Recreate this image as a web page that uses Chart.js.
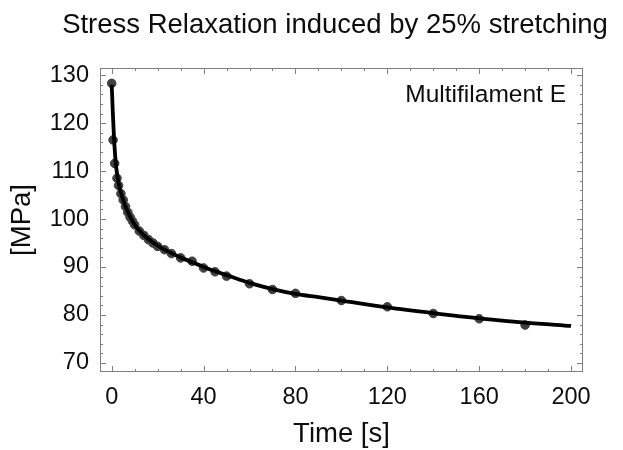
<!DOCTYPE html>
<html>
<head>
<meta charset="utf-8">
<script src="https://cdn.jsdelivr.net/npm/chart.js@4"></script>
<style>
  body { margin: 0; background: #fff; }
  #wrap { width: 623px; height: 450px; }
</style>
</head>
<body>
<div id="wrap"><canvas id="relax" width="623" height="450"></canvas></div>
<script>
// fitted curve
const timeLine   = [0, 0.5, 1, 1.5, 2, 3, 4, 5, 6, 8, 10, 12, 15, 18, 22, 26, 30, 35, 40, 45, 50, 60, 70, 80, 90, 100, 120, 140, 160, 180, 200];
const stressLine = [128, 122, 117, 113.2, 110.6, 107.5, 105.5, 104, 102.6, 100.5, 98.8, 97.6, 96.2, 95.1, 93.9, 92.9, 92.0, 91.0, 90.0, 89.1, 88.3, 86.7, 85.4, 84.4, 83.7, 83.0, 81.6, 80.4, 79.3, 78.4, 77.7];

// measured points
const timeDots   = [0, 0.6, 1.3, 2.3, 3, 4, 5, 6, 7, 8, 9, 10, 12, 14, 16, 18, 20, 23, 26, 30, 35, 40, 45, 50, 60, 70, 80, 100, 120, 140, 160, 180];
const stressDots = [128.3, 116.5, 111.6, 108.5, 107, 105.3, 104, 102.6, 101.4, 100.4, 99.6, 98.8, 97.5, 96.6, 95.7, 95.0, 94.3, 93.6, 92.8, 91.9, 91.2, 89.8, 89.0, 88.1, 86.5, 85.3, 84.5, 83.0, 81.7, 80.3, 79.2, 77.9];

const xTicks = [0, 40, 80, 120, 160, 200];
const yTicks = [70, 80, 90, 100, 110, 120, 130];

const chartTitle = "Stress Relaxation induced by 25% stretching";
const sampleName = "Multifilament E";

const FONT = "Liberation Sans, Arial, Helvetica, sans-serif";

// frame, inward ticks on all sides, title and sample label
const framePlugin = {
  id: "frame",
  afterDraw(chart) {
    const c = chart.ctx, a = chart.chartArea;
    const xs = chart.scales.x, ys = chart.scales.y;
    c.save();
    c.strokeStyle = "#808080";
    c.lineWidth = 1;
    c.strokeRect(a.left + 0.5, a.top + 0.5, a.right - a.left - 1, a.bottom - a.top - 1);
    c.beginPath();
    for (let v = 0; v <= 200; v += 10) {
      const px = Math.round(xs.getPixelForValue(v)) + 0.5;
      const len = v % 40 === 0 ? 6 : 3;
      c.moveTo(px, a.bottom); c.lineTo(px, a.bottom - len);
      c.moveTo(px, a.top); c.lineTo(px, a.top + len);
    }
    for (let v = 70; v <= 130; v += 2) {
      const py = Math.round(ys.getPixelForValue(v)) + 0.5;
      const len = v % 10 === 0 ? 6 : 3;
      c.moveTo(a.left, py); c.lineTo(a.left + len, py);
      c.moveTo(a.right, py); c.lineTo(a.right - len, py);
    }
    c.stroke();

    c.fillStyle = "#0d0d0d";
    c.textBaseline = "alphabetic";
    c.font = "27.5px " + FONT;
    c.textAlign = "center";
    c.fillText(chartTitle, 335, 33);
    c.font = "24.5px " + FONT;
    c.textAlign = "right";
    c.fillText(sampleName, 566, 102);
    c.restore();
  }
};

new Chart(document.getElementById("relax"), {
  type: "scatter",
  data: {
    datasets: [
      {
        label: "fit",
        data: timeLine.map((t, i) => ({ x: t, y: stressLine[i] })),
        showLine: true,
        borderColor: "#000",
        borderWidth: 3.8,
        pointRadius: 0,
        cubicInterpolationMode: "monotone",
        order: 0
      },
      {
        label: "data",
        data: timeDots.map((t, i) => ({ x: t, y: stressDots[i] })),
        backgroundColor: "#404040",
        borderColor: "#404040",
        pointRadius: 4.3,
        order: 1
      }
    ]
  },
  options: {
    responsive: false,
    animation: false,
    layout: { padding: { top: 68, right: 40, left: 0, bottom: 0 } },
    plugins: { legend: { display: false }, tooltip: { enabled: false } },
    scales: {
      x: {
        type: "linear",
        min: -5.1,
        max: 205.2,
        grid: { display: false, drawTicks: false },
        border: { display: false },
        afterBuildTicks: s => { s.ticks = xTicks.map(v => ({ value: v })); },
        afterFit: s => { s.height = 78; },
        ticks: { color: "#0d0d0d", padding: 11, font: { size: 23.5, family: FONT } },
        title: { display: true, text: "Time [s]", color: "#0d0d0d", padding: { top: 0, bottom: -1 }, font: { size: 27.5, family: FONT } }
      },
      y: {
        min: 68.1,
        max: 131.5,
        grid: { display: false, drawTicks: false },
        border: { display: false },
        afterBuildTicks: s => { s.ticks = yTicks.map(v => ({ value: v })); },
        afterFit: s => { s.width = 100; },
        ticks: { color: "#0d0d0d", padding: 11, font: { size: 23.5, family: FONT } },
        title: { display: true, text: "[MPa]", color: "#0d0d0d", padding: { top: 6, bottom: 0 }, font: { size: 27.5, family: FONT } }
      }
    }
  },
  plugins: [framePlugin]
});
</script>
</body>
</html>
